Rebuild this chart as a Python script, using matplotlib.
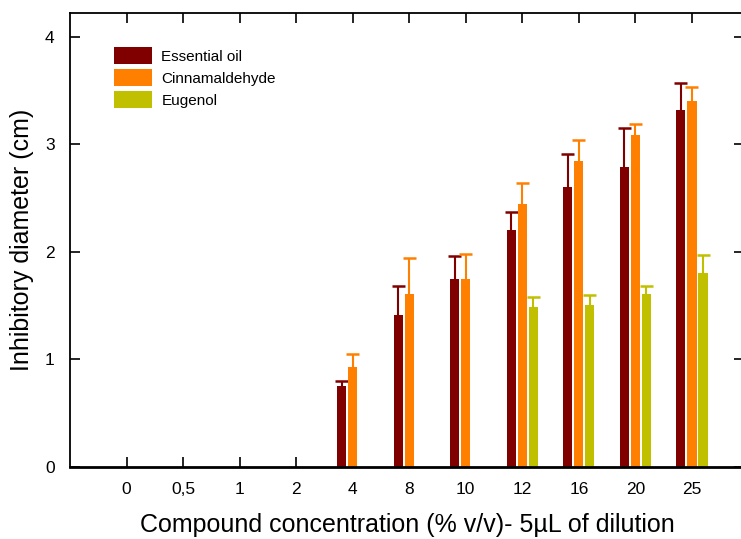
import numpy as np
import matplotlib.pyplot as plt

plt.rcParams['font.family'] = ['Liberation Sans', 'DejaVu Sans']

# concentrations (categories)
labels = ["0", "0,5", "1", "2", "4", "8", "10", "12", "16", "20", "25"]

# mean inhibitory diameter (cm) and upper error
oil = [0, 0, 0, 0, 0.75, 1.41, 1.75, 2.20, 2.60, 2.79, 3.32]
oil_err = [0, 0, 0, 0, 0.05, 0.27, 0.21, 0.17, 0.31, 0.36, 0.25]
cinna = [0, 0, 0, 0, 0.93, 1.61, 1.75, 2.44, 2.84, 3.09, 3.40]
cinna_err = [0, 0, 0, 0, 0.12, 0.33, 0.23, 0.20, 0.20, 0.10, 0.13]
eug = [0, 0, 0, 0, 0, 0, 0, 1.49, 1.51, 1.61, 1.80]
eug_err = [0, 0, 0, 0, 0, 0, 0, 0.09, 0.09, 0.07, 0.17]

series = [
    ("Essential oil", oil, oil_err, "#800000"),
    ("Cinnamaldehyde", cinna, cinna_err, "#FF8000"),
    ("Eugenol", eug, eug_err, "#C0C000"),
]

fig = plt.figure(figsize=(7.41, 5.39), dpi=100)
ax = fig.add_axes([70 / 741, 72 / 539, 674 / 741, 454 / 539])

x = np.arange(len(labels))
w = 0.16
step = 0.195
cap = 0.115
for i, (name, vals, err, col) in enumerate(series):
    vals = np.array(vals)
    err = np.array(err)
    pos = x + (i - 1) * step
    m = vals > 0
    ax.bar(pos[m], vals[m], width=w, color=col, label=name, zorder=2)
    # upper error bars only
    ax.vlines(pos[m], vals[m], vals[m] + err[m], color=col, lw=1.5, zorder=1)
    ax.hlines(vals[m] + err[m], pos[m] - cap, pos[m] + cap, color=col, lw=1.8, zorder=1)

ax.set_xlim(-1, 10.92)
ax.set_ylim(0, 4.22)
ax.set_xticks(x)
ax.set_xticklabels(labels)
ax.set_yticks([0, 1, 2, 3, 4])
ax.tick_params(direction="in", length=7, width=1.2, top=True, right=True,
               labelsize=12.5, pad=11, colors="black")
for s in ax.spines.values():
    s.set_linewidth(1.3)
ax.spines["bottom"].set_linewidth(2)

ax.set_xlabel("Compound concentration (% v/v)- 5µL of dilution", fontsize=18, labelpad=11)
ax.set_ylabel("Inhibitory diameter (cm)", fontsize=18, labelpad=8)

ax.legend(loc="upper left", bbox_to_anchor=(0.045, 0.955), frameon=False,
          fontsize=11, handlelength=2.5, handleheight=1.3, labelspacing=0.35,
          handletextpad=0.6)

fig.savefig("out.png", dpi=100)
